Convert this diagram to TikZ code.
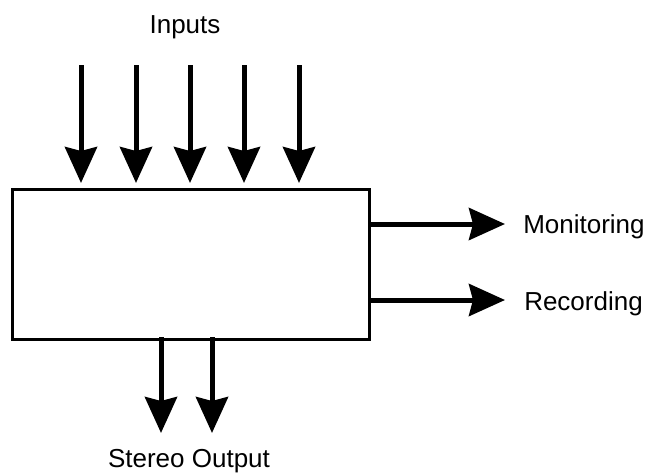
\documentclass[tikz,border=0pt]{standalone}
\usepackage{fontspec}
\setmainfont{Liberation Sans}
\usetikzlibrary{arrows.meta}
\begin{document}
\begin{tikzpicture}[x=0.75pt,y=-0.75pt,
  sig/.style={line width=3.75pt,-{Stealth[length=27pt 0,width=24pt 0,inset=3pt 0]}},
  lbl/.style={inner sep=0pt,font=\fontsize{19.5}{23}\selectfont}]
\useasboundingbox (0,0) rectangle (647,472);
\node[draw,line width=1.9pt,minimum width=357*0.75pt,minimum height=150*0.75pt,inner sep=0pt,anchor=north west] (box) at (11,188) {};
% inputs
\foreach \i/\x in {1/81,2/136,3/190,4/244,5/299}{
  \coordinate (in\i) at (\x,65);
  \coordinate (inend\i) at (\x,183);
  \draw[sig] (in\i) -- (inend\i);
}
\node[lbl,anchor=base] (inputs) at (185,33) {Inputs};
% outputs right
\coordinate (m0) at (370,224);
\coordinate (m1) at (505,224);
\coordinate (r0) at (370,300);
\coordinate (r1) at (505,300);
\draw[sig] (m0) -- (m1);
\draw[sig] (r0) -- (r1);
\node[lbl,anchor=base west] (mon) at (523,233) {Monitoring};
\node[lbl,anchor=base west] (rec) at (524,310) {Recording};
% stereo
\coordinate (s0) at (161,337);
\coordinate (s1) at (161,433);
\coordinate (t0) at (212,337);
\coordinate (t1) at (212,433);
\draw[sig] (s0) -- (s1);
\draw[sig] (t0) -- (t1);
\node[lbl,anchor=base] (stereo) at (189,467) {Stereo Output};
\end{tikzpicture}
\end{document}
